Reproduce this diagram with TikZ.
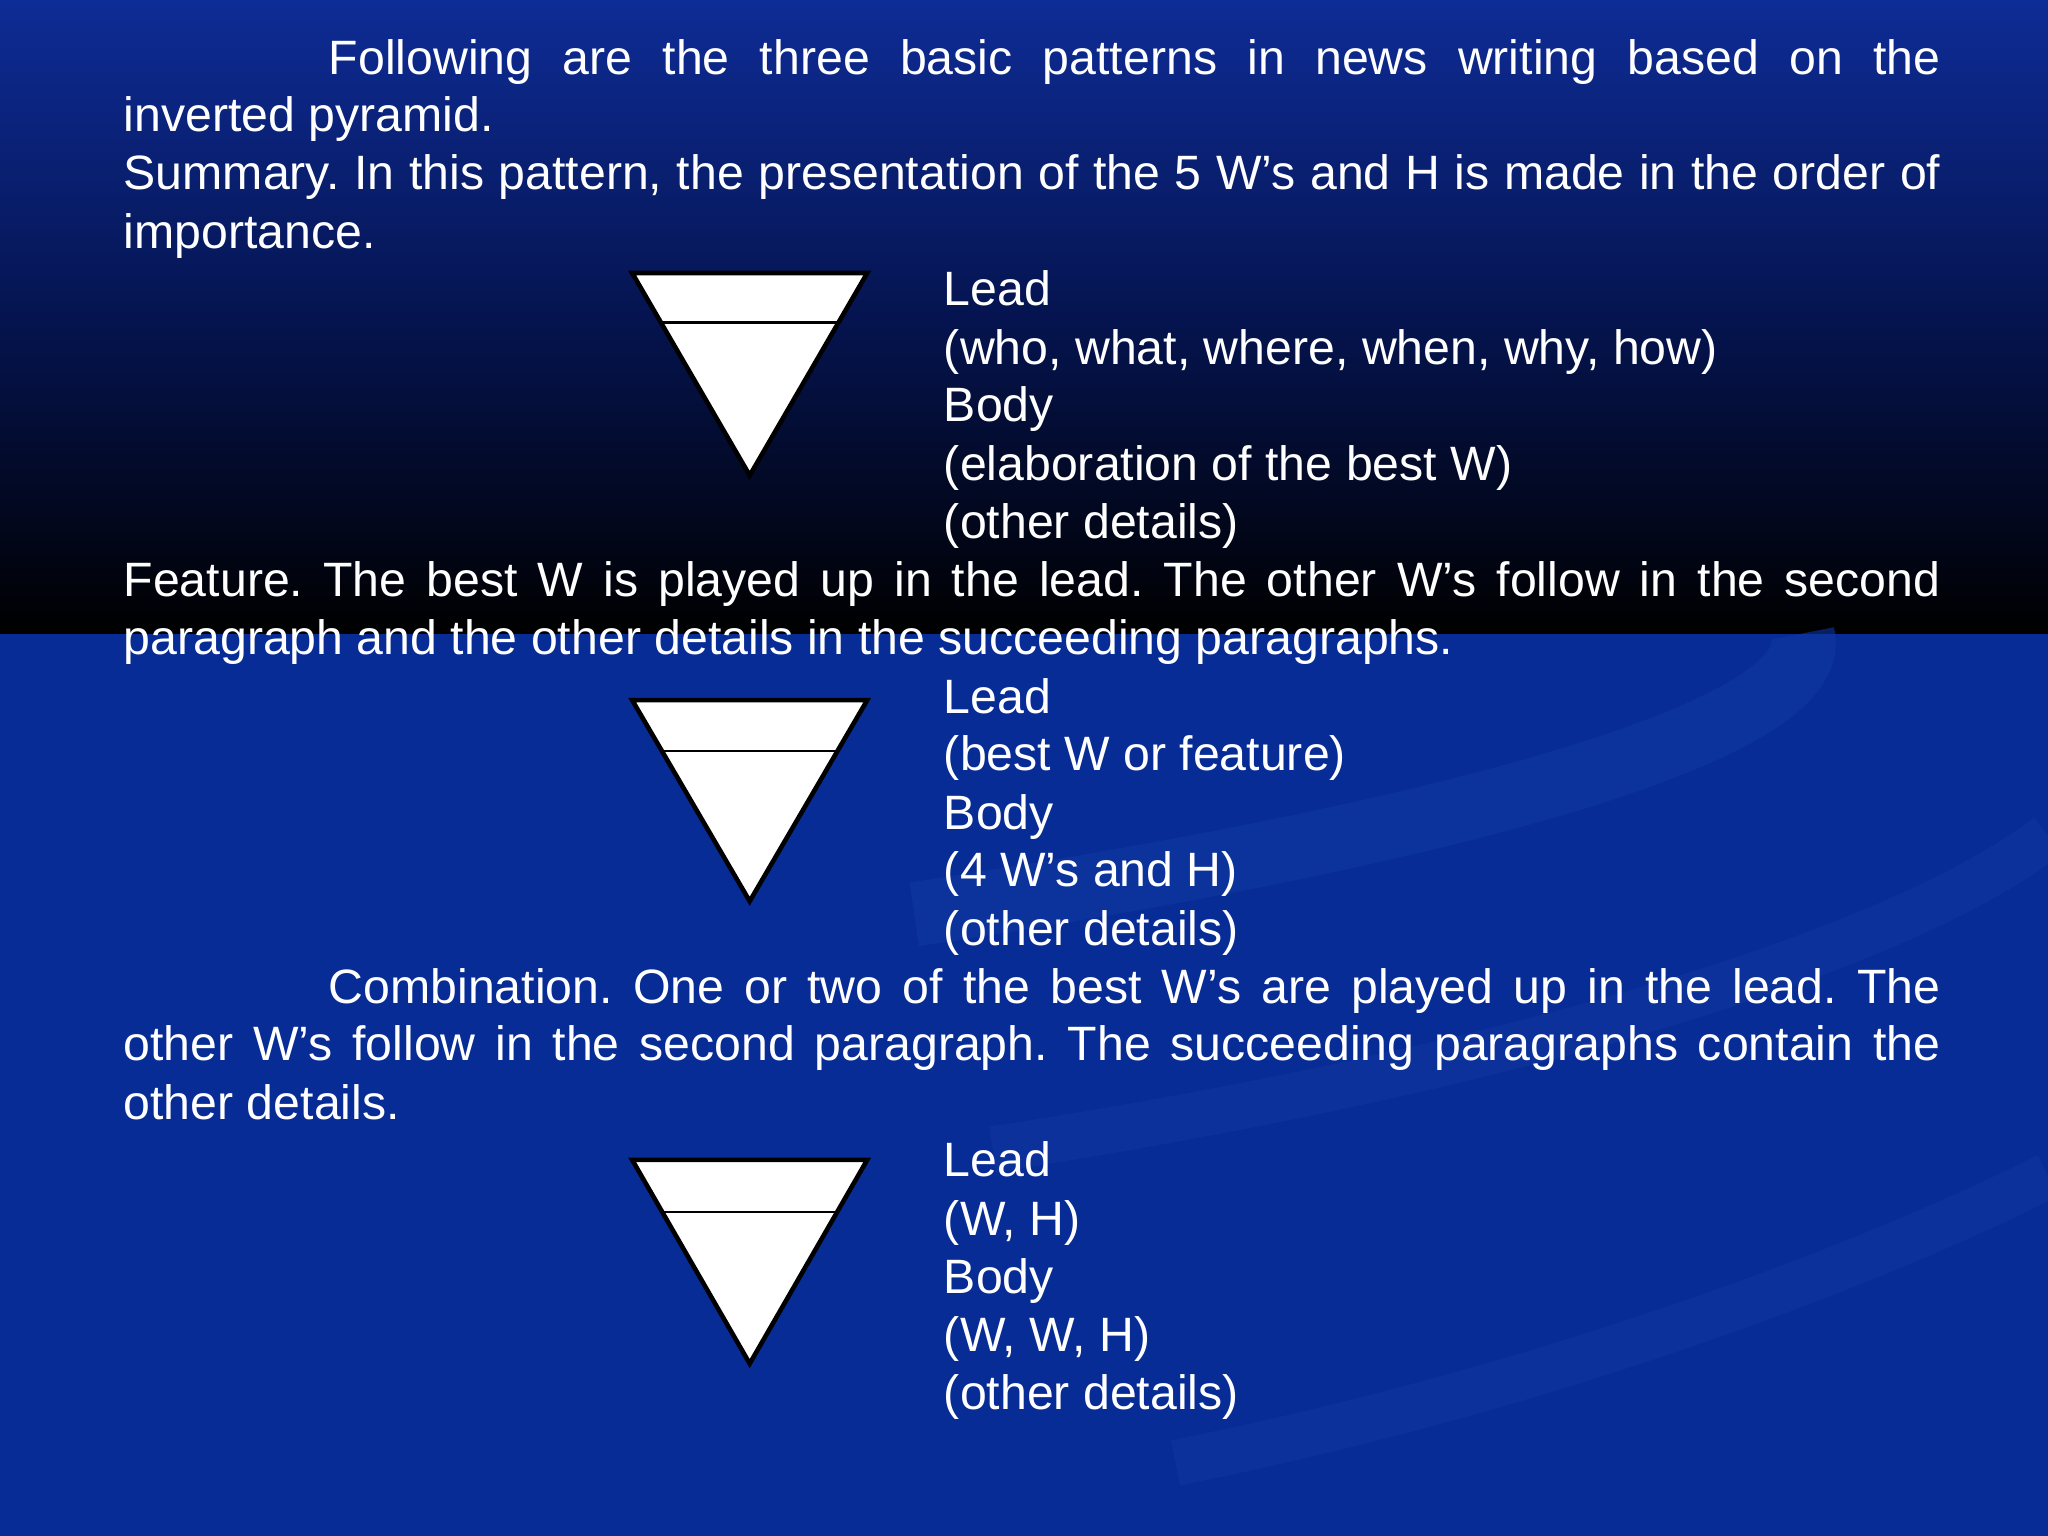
\documentclass[tikz,border=0pt]{standalone}
\usepackage{fontspec}
\setmainfont{Liberation Sans}
\frenchspacing
\begin{document}
\begin{tikzpicture}[x=0.01cm,y=-0.01cm,
  txt/.style={anchor=base west,inner sep=0pt,text=white,font=\fontsize{10.5}{12}\selectfont},
  pyr/.style={fill=white,draw=black,line width=1pt,line join=miter}]
\definecolor{topblue}{RGB}{14,44,150}
\definecolor{botblue}{RGB}{8,44,150}
\definecolor{swirl}{RGB}{16,54,160}
\useasboundingbox (0,0) rectangle (1568,1176);
\fill[botblue] (0,485) rectangle (1568,1176);
\shade[top color=topblue,bottom color=black,middle color={rgb,255:red,5;green,20;blue,80}] (0,0) rectangle (1568,485);
\draw[line width=14pt,swirl,opacity=0.6] (700,700) .. controls (1100,640) and (1400,560) .. (1380,485);
\draw[line width=10pt,swirl,opacity=0.5] (760,880) .. controls (1150,820) and (1450,730) .. (1568,640);
\draw[line width=10pt,swirl,opacity=0.5] (900,1120) .. controls (1200,1060) and (1450,960) .. (1568,900);

\node[txt] (p1) at (251,57) {\makebox[1234\dimexpr0.01cm\relax][s]{Following are the three basic patterns in news writing based on the}};
\node[txt] (p2) at (94,101) {inverted pyramid.};
\node[txt] (p3) at (94,145) {\makebox[1391\dimexpr0.01cm\relax][s]{Summary. In this pattern, the presentation of the 5 W’s and H is made in the order of}};
\node[txt] (p4) at (94,190) {importance.};
\node[txt] (a1) at (722,234) {Lead};
\node[txt] (a2) at (722,279) {(who, what, where, when, why, how)};
\node[txt] (a3) at (722,323) {Body};
\node[txt] (a4) at (722,368) {(elaboration of the best W)};
\node[txt] (a5) at (722,412) {(other details)};
\node[txt] (f1) at (94,457) {\makebox[1391\dimexpr0.01cm\relax][s]{Feature. The best W is played up in the lead. The other W’s follow in the second}};
\node[txt] (f2) at (94,501) {paragraph and the other details in the succeeding paragraphs.};
\node[txt] (b1) at (722,546) {Lead};
\node[txt] (b2) at (722,590) {(best W or feature)};
\node[txt] (b3) at (722,635) {Body};
\node[txt] (b4) at (722,679) {(4 W’s and H)};
\node[txt] (b5) at (722,724) {(other details)};
\node[txt] (c1) at (251,768) {\makebox[1234\dimexpr0.01cm\relax][s]{Combination. One or two of the best W’s are played up in the lead. The}};
\node[txt] (c2) at (94,812) {\makebox[1391\dimexpr0.01cm\relax][s]{other W’s follow in the second paragraph. The succeeding paragraphs contain the}};
\node[txt] (c3) at (94,857) {other details.};
\node[txt] (d1) at (722,901) {Lead};
\node[txt] (d2) at (722,946) {(W, H)};
\node[txt] (d3) at (722,990) {Body};
\node[txt] (d4) at (722,1035) {(W, W, H)};
\node[txt] (d5) at (722,1079) {(other details)};

\foreach \t/\a/\l in {209/364/247, 536/690/575, 888/1044/928}{
  \draw[pyr] (484,\t) -- (664,\t) -- (574,\a) -- cycle;
  \pgfmathsetmacro\f{(\l-\t)/(\a-\t)*90}
  \draw[line width=0.6pt] (484+\f,\l) -- (664-\f,\l);
}
\end{tikzpicture}
\end{document}
